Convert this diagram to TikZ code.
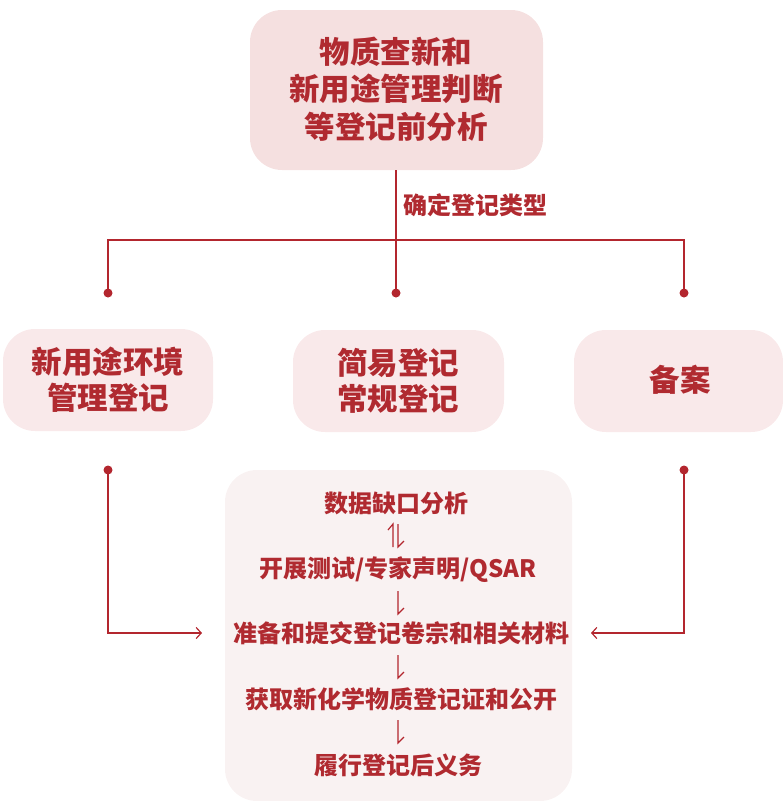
\documentclass[tikz,border=0pt]{standalone}
\usepackage{fontspec}
\newfontfamily\cjk{Noto Sans CJK SC}
\usetikzlibrary{arrows.meta}
\definecolor{txtred}{HTML}{B02A30}
\definecolor{linered}{HTML}{B3262E}
\definecolor{topfill}{HTML}{F5E0E0}
\definecolor{midfill}{HTML}{F9E9EA}
\definecolor{botfill}{HTML}{F9F2F2}
\tikzset{
  bigtxt/.style={text=txtred, font=\cjk\bfseries\fontsize{30.5}{37.5}\selectfont, align=center, inner sep=0pt},
  midtxt/.style={text=txtred, font=\cjk\bfseries\fontsize{30.5}{36}\selectfont, align=center, inner sep=0pt},
  smalltxt/.style={text=txtred, font=\cjk\bfseries\fontsize{24}{28}\selectfont, inner sep=0pt},
  conn/.style={draw=linered, line width=1.2pt},
  dotnode/.style={circle, fill=linered, inner sep=0pt, minimum size=9pt},
  harp/.style={draw=linered, line width=1.2pt, line cap=butt},
}
\begin{document}
\begin{tikzpicture}[x=1pt,y=-1pt]
\useasboundingbox (0,0) rectangle (783,801);
% boxes
\fill[topfill, rounded corners=32pt] (250,10) rectangle (543,170);
\fill[midfill, rounded corners=32pt] (3,329) rectangle (213,431);
\fill[midfill, rounded corners=32pt] (293,330) rectangle (504,432);
\fill[midfill, rounded corners=32pt] (574,330) rectangle (783,432);
\fill[botfill, rounded corners=32pt] (225,470) rectangle (572,801);
% top text
\node[bigtxt] (top) at (396,89) {物质查新和\\新用途管理判断\\等登记前分析};
\coordinate (topb) at (396,170);
\node[smalltxt, anchor=west] (lbl) at (403,205) {确定登记类型};
% branch
\coordinate (bl) at (108,240);
\coordinate (br) at (684,240);
\node[dotnode] (d1) at (108,293) {};
\node[dotnode] (d2) at (396,293) {};
\node[dotnode] (d3) at (684,293) {};
\draw[conn] (topb) -- (d2.center);
\draw[conn] (d1.center) -- (bl) -- (br) -- (d3.center);
% middle texts
\node[midtxt] (mL) at (108,380) {新用途环境\\管理登记};
\node[midtxt] (mM) at (398,381) {简易登记\\常规登记};
\node[midtxt] (mR) at (680,380) {备案};
% lower connectors
\node[dotnode] (d4) at (108,470) {};
\node[dotnode] (d5) at (684,470) {};
\coordinate (aL) at (202,633);
\coordinate (aR) at (591,633);
\draw[conn, -{Straight Barb[length=5pt,width=11pt,line width=1.2pt]}] (d4.center) |- (aL);
\draw[conn, -{Straight Barb[length=5pt,width=11pt,line width=1.2pt]}] (d5.center) |- (aR);
% bottom texts
\node[smalltxt] (s1) at (396,503) {数据缺口分析};
\node[smalltxt] (s2) at (398,570) {开展测试/专家声明/QSAR};
\node[smalltxt] (s3) at (401,633) {准备和提交登记卷宗和相关材料};
\node[smalltxt] (s4) at (401,699) {获取新化学物质登记证和公开};
\node[smalltxt] (s5) at (398,765) {履行登记后义务};
% harpoons
\draw[harp] (393,547) -- (393,524) -- (388,530);
\draw[harp] (398,524) -- (398,547) -- (404,541);
\draw[harp] (398,591) -- (398,614) -- (404,608);
\draw[harp] (398,655) -- (398,678) -- (404,672);
\draw[harp] (398,720) -- (398,743) -- (404,737);
\end{tikzpicture}
\end{document}
